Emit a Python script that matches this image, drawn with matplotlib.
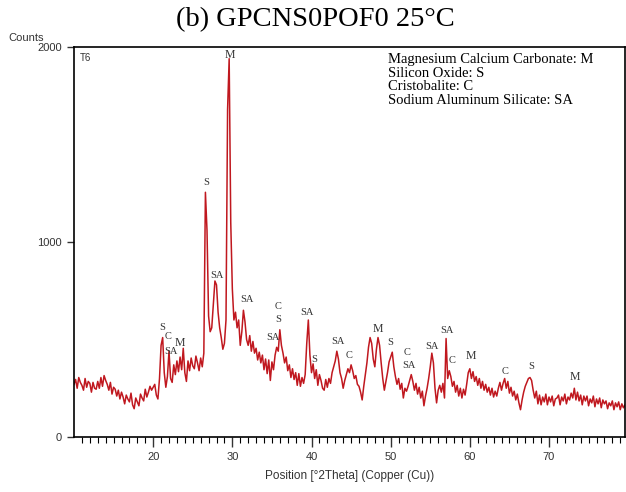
import numpy as np
import matplotlib
matplotlib.use('Agg')
import matplotlib.pyplot as plt

# 2theta grid (0.2 deg steps) and counts
two_theta = np.round(np.arange(10.0, 79.61, 0.2), 1)

counts = [
    # 10.0 - 19.8
    270, 295, 250, 305, 280, 265, 240, 300, 255, 285,
    275, 230, 280, 250, 245, 285, 250, 305, 260, 315,
    290, 270, 240, 280, 220, 255, 245, 210, 240, 195,
    230, 205, 170, 215, 195, 180, 225, 165, 145, 200,
    180, 160, 220, 200, 185, 245, 205, 230, 260, 240,
    # 20.0 - 29.8
    255, 270, 215, 195, 300, 470, 510, 330, 255, 310,
    440, 300, 280, 370, 320, 390, 335, 410, 345, 455,
    330, 285, 390, 340, 405, 365, 350, 415, 380, 340,
    405, 360, 430, 1255, 1060, 620, 540, 560, 680, 800,
    780, 640, 560, 510, 450, 480, 600, 1680, 1940, 1100,
    # 30.0 - 39.8
    760, 600, 640, 560, 600, 470, 540, 650, 590, 500,
    470, 520, 440, 490, 430, 455, 395, 435, 380, 420,
    345, 400, 325, 395, 290, 385, 345, 420, 460, 440,
    550, 470, 430, 380, 410, 340, 370, 305, 350, 295,
    330, 265, 325, 260, 305, 275, 320, 480, 600, 420,
    # 40.0 - 49.8
    330, 375, 300, 345, 265, 320, 290, 250, 240, 295,
    255, 300, 275, 330, 360, 390, 440, 400, 330, 300,
    250, 290, 320, 350, 330, 370, 340, 300, 315, 270,
    260, 230, 190, 260, 320, 380, 460, 510, 480, 400,
    360, 450, 510, 470, 380, 300, 240, 285, 330, 385,
    # 50.0 - 59.8
    410, 435, 360, 310, 270, 300, 245, 275, 200, 250,
    235, 260, 290, 320, 285, 240, 275, 220, 255, 200,
    235, 160, 210, 250, 300, 360, 430, 380, 250, 175,
    240, 265, 230, 275, 200, 505, 300, 340, 310, 260,
    285, 230, 265, 210, 250, 200, 245, 215, 270, 330,
    # 60.0 - 69.8
    350, 300, 335, 285, 310, 265, 300, 250, 285, 240,
    270, 230, 255, 215, 250, 205, 235, 210, 250, 280,
    240, 275, 300, 250, 285, 225, 255, 210, 235, 190,
    220, 175, 140, 190, 230, 260, 280, 300, 305, 290,
    240, 200, 235, 170, 215, 165, 205, 180, 220, 165,
    # 70.0 - 79.6
    205, 180, 210, 160, 195, 200, 215, 165, 205, 185,
    220, 170, 205, 190, 225, 200, 250, 190, 230, 185,
    215, 165, 210, 185, 210, 160, 195, 175, 210, 155,
    195, 170, 200, 150, 190, 170, 185, 145, 175, 160,
    185, 140, 175, 155, 180, 140, 170, 150, 165,
]

# phase labels above the peaks
peak_labels = ['S', 'C', 'SA', 'M', 'S', 'SA', 'M', 'SA', 'SA', 'C', 'S',
               'SA', 'S', 'SA', 'C', 'M', 'S', 'C', 'SA', 'SA', 'SA', 'C',
               'M', 'C', 'S', 'M']
peak_x = [21.1, 21.9, 22.2, 23.4, 26.7, 28.0, 29.7, 31.9, 35.1, 35.8, 35.8,
          39.4, 40.4, 43.3, 44.7, 48.4, 50.0, 52.1, 52.3, 55.2, 57.1, 57.7,
          60.1, 64.4, 67.7, 73.3]
peak_y = [564, 513, 436, 482, 1303, 830, 1959, 703, 508, 667, 605,
          641, 400, 492, 420, 554, 487, 431, 369, 462, 544, 390,
          415, 338, 359, 308]

phases = ['Magnesium Calcium Carbonate: M', 'Silicon Oxide: S',
          'Cristobalite: C', 'Sodium Aluminum Silicate: SA']

serif = 'Liberation Serif'
sans = 'Liberation Sans'

fig = plt.figure(figsize=(6.26, 4.92), dpi=100)
ax = fig.add_axes([74 / 626, 1 - 437 / 492, 551 / 626, 390 / 492])

ax.plot(two_theta, counts, color='#c0181f', lw=1.1)

for lab, px, py in zip(peak_labels, peak_x, peak_y):
    ax.text(px, py, lab, ha='center', va='center',
            fontsize=8.5 if lab == 'M' else 7.5,
            family=serif, color='#333333')

ax.text(0.569, 0.985, '\n'.join(phases), transform=ax.transAxes,
        ha='left', va='top', fontsize=10.5, family=serif, linespacing=1.07)
ax.text(0.01, 0.985, 'T6', transform=ax.transAxes, ha='left', va='top',
        fontsize=7, family=sans, color='#333333')

ax.set_xlim(10, 79.6)
ax.set_ylim(0, 2000)
ax.set_yticks([0, 1000, 2000])
ax.set_xticks([20, 30, 40, 50, 60, 70])
ax.set_xticks(np.arange(11, 80, 1), minor=True)
ax.tick_params(axis='both', direction='out', labelsize=8, colors='#333333')
ax.tick_params(axis='x', which='major', length=7, width=1)
ax.tick_params(axis='x', which='minor', length=4, width=0.8)
ax.tick_params(axis='y', length=5, width=1)
for lbl in ax.get_xticklabels() + ax.get_yticklabels():
    lbl.set_family(sans)
for sp in ax.spines.values():
    sp.set_linewidth(1.2)

ax.set_xlabel('Position [°2Theta] (Copper (Cu))', fontsize=8.5,
              family=sans, color='#333333', labelpad=6)
fig.text(8 / 626, 1 - 38 / 492, 'Counts', fontsize=8, family=sans,
         color='#333333', ha='left', va='center')
fig.text(0.503, 1 - 20 / 492, '(b) GPCNS0POF0 25°C', fontsize=20.5,
         family=serif, ha='center', va='center')

fig.savefig('out.png', dpi=100)
